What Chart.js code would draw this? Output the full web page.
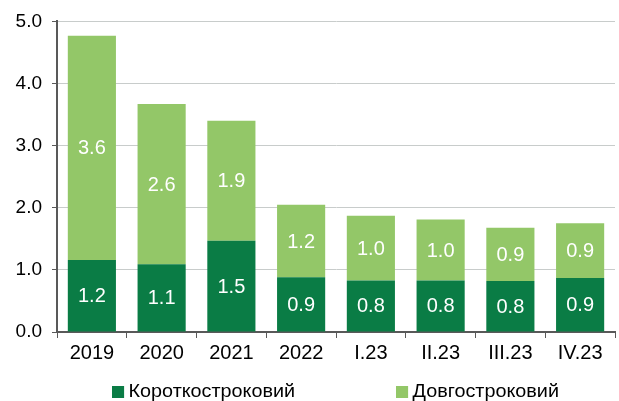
<!DOCTYPE html>
<html>
<head>
<meta charset="utf-8">
<script src="https://cdn.jsdelivr.net/npm/chart.js@4.4.1/dist/chart.umd.min.js"></script>
<style>
  html, body { margin: 0; padding: 0; background: #fff; }
  #wrap { position: relative; width: 619px; height: 401px; }
  .legend { position: absolute; top: 380px; font: 18px "Liberation Sans", Arial, sans-serif; color: #000; white-space: nowrap; line-height: 22px; transform: scaleX(1.1); transform-origin: left center; }
  .legend span.box { display: inline-block; width: 11px; height: 12px; margin-right: 4px; vertical-align: -1px; }
</style>
</head>
<body>
<div id="wrap">
  <canvas id="debtChart" width="619" height="401"></canvas>
  <div class="legend" id="legShort" style="left:112px"><span class="box" style="background:#0a7c45"></span>Короткостроковий</div>
  <div class="legend" id="legLong" style="left:396px"><span class="box" style="background:#93c768"></span>Довгостроковий</div>
</div>
<script>
var categories = ['2019', '2020', '2021', '2022', 'I.23', 'II.23', 'III.23', 'IV.23'];
var shortTerm = [1.16, 1.09, 1.47, 0.88, 0.83, 0.83, 0.82, 0.87];
var longTerm = [3.61, 2.58, 1.93, 1.17, 1.04, 0.98, 0.86, 0.88];
var yMin = 0, yMax = 5, yStep = 1;

// values written in the middle of each segment
var barLabels = {
    id: 'barLabels',
    afterDatasetsDraw: function (chart) {
        var ctx = chart.ctx;
        ctx.save();
        ctx.fillStyle = '#ffffff';
        ctx.font = '20px "Liberation Sans", Arial, sans-serif';
        ctx.textAlign = 'center';
        ctx.textBaseline = 'middle';
        chart.data.datasets.forEach(function (ds, i) {
            chart.getDatasetMeta(i).data.forEach(function (bar, j) {
                var mid = (bar.y + bar.base) / 2;
                ctx.fillText(ds.data[j].toFixed(1), bar.x, mid + 1);
            });
        });
        ctx.restore();
    }
};

var ctx1 = document.getElementById('debtChart').getContext('2d');
var debtChart = new Chart(ctx1, {
    type: 'bar',
    data: {
        labels: categories,
        datasets: [{
            label: 'Короткостроковий',
            data: shortTerm,
            backgroundColor: '#0a7c45',
            barPercentage: 0.69,
            categoryPercentage: 1
        }, {
            label: 'Довгостроковий',
            data: longTerm,
            backgroundColor: '#93c768',
            barPercentage: 0.69,
            categoryPercentage: 1
        }]
    },
    options: {
        responsive: false,
        animation: false,
        layout: { padding: { left: 0, right: 4, top: 20, bottom: 0 } },
        scales: {
            x: {
                stacked: true,
                afterFit: function (scale) { scale.height = 69; },
                grid: { drawOnChartArea: false, drawTicks: true, tickLength: 6, tickColor: '#595959', offset: true },
                border: { color: '#595959', width: 2 },
                ticks: { color: '#000', font: { size: 20, family: '"Liberation Sans", Arial' }, padding: 3 }
            },
            y: {
                stacked: true,
                min: yMin,
                max: yMax,
                afterFit: function (scale) { scale.width = 57; },
                grid: { color: '#c8cccb', lineWidth: 1, tickColor: '#595959', tickLength: 5 },
                border: { color: '#595959', width: 2 },
                ticks: {
                    stepSize: yStep,
                    color: '#000',
                    font: { size: 19, family: '"Liberation Sans", Arial' },
                    padding: 10,
                    callback: function (v) { return v.toFixed(1); }
                }
            }
        },
        plugins: {
            legend: { display: false },
            tooltip: { enabled: false }
        }
    },
    plugins: [barLabels]
});
</script>
</body>
</html>
